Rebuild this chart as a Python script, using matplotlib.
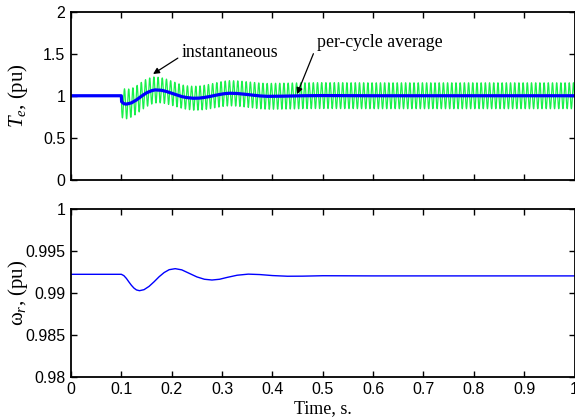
import numpy as np
import matplotlib
matplotlib.use("Agg")
import matplotlib.pyplot as plt
from matplotlib.ticker import FuncFormatter, MultipleLocator

plt.rcParams['font.family'] = ['Liberation Sans', 'DejaVu Sans']
plt.rcParams['mathtext.fontset'] = 'custom'
plt.rcParams['mathtext.rm'] = 'Liberation Serif'
plt.rcParams['mathtext.it'] = 'Liberation Serif:italic'
plt.rcParams['mathtext.bf'] = 'Liberation Serif:bold'

# Per-cycle average electromagnetic torque (pu)
te_avg_t = [0.0, 0.1, 0.1005, 0.105, 0.11, 0.12, 0.13, 0.14, 0.15, 0.16, 0.167,
            0.18, 0.19, 0.20, 0.21, 0.22, 0.23, 0.243, 0.255, 0.265, 0.275,
            0.285, 0.295, 0.305, 0.315, 0.33, 0.345, 0.36, 0.375, 0.39, 0.42,
            0.46, 0.5, 0.6, 1.0]
te_avg = [1.0, 1.0, 0.93, 0.905, 0.90, 0.915, 0.95, 0.995, 1.035, 1.06, 1.07,
          1.065, 1.05, 1.03, 1.01, 0.99, 0.978, 0.97, 0.972, 0.98, 0.99,
          1.003, 1.015, 1.025, 1.03, 1.027, 1.018, 1.008, 0.998, 0.993, 0.995,
          1.0, 1.002, 1.0, 1.0]

# Ripple amplitude of the instantaneous torque about its average (pu)
ripple_t = [0.1, 0.105, 0.12, 0.15, 0.18, 0.22, 0.26, 0.3, 0.4, 1.0]
ripple_amp = [0.19, 0.18, 0.17, 0.165, 0.15, 0.14, 0.145, 0.15, 0.155, 0.155]
ripple_freq = 120.0  # Hz
fault_time = 0.1

# Rotor speed (pu)
wr_t = [0.0, 0.1, 0.105, 0.11, 0.115, 0.12, 0.125, 0.13, 0.136, 0.145, 0.155,
        0.165, 0.175, 0.185, 0.195, 0.207, 0.22, 0.235, 0.25, 0.265, 0.28,
        0.295, 0.31, 0.33, 0.352, 0.375, 0.40, 0.43, 0.46, 0.5, 0.55, 0.6,
        0.7, 1.0]
wr = [0.99219, 0.99219, 0.99203, 0.99170, 0.99128, 0.99088, 0.99055, 0.99033,
      0.99024, 0.99036, 0.99075, 0.99130, 0.99190, 0.99240, 0.99274, 0.99286,
      0.99272, 0.99230, 0.99188, 0.99160, 0.99151, 0.99160, 0.99182, 0.99208,
      0.99221, 0.99216, 0.99204, 0.99196, 0.99197, 0.99202, 0.99201, 0.99200,
      0.99200, 0.99200]

x_ticks = [0, 0.1, 0.2, 0.3, 0.4, 0.5, 0.6, 0.7, 0.8, 0.9, 1.0]

# Instantaneous torque: average plus the double-frequency ripple after the fault
t = np.linspace(0, 1.0, 24001)
avg_dense = np.interp(t, te_avg_t, te_avg)
amp_dense = np.interp(t, ripple_t, ripple_amp)
ripple = -amp_dense * np.sin(2 * np.pi * ripple_freq * (t - fault_time))
te_inst = np.where(t >= fault_time, avg_dense + ripple, avg_dense)

W, H = 575, 419
fig = plt.figure(figsize=(W / 100, H / 100), dpi=100)
left, right = 71 / W, 574.5 / W
ax1 = fig.add_axes([left, 1 - 179.5 / H, right - left, (179.5 - 12) / H])
ax2 = fig.add_axes([left, 1 - 376.7 / H, right - left, (376.7 - 208.7) / H])

fmt = FuncFormatter(lambda v, p: ('%g' % round(v, 6)))

ax1.plot(t, te_inst, color='#18f04a', lw=0.9)
ax1.plot(te_avg_t, te_avg, color='#0000ff', lw=2.3)
ax1.set_xlim(0, 1)
ax1.set_ylim(0, 2)
ax1.yaxis.set_major_locator(MultipleLocator(0.5))
ax1.set_xticks(x_ticks)
ax1.set_xticklabels([])
ax1.yaxis.set_major_formatter(fmt)
ax1.set_ylabel(r'$T_e$, (pu)', fontsize=15, family='Liberation Serif')
ax1.yaxis.set_label_coords(-0.082, 0.5)

ax1.annotate('instantaneous', xy=(0.163, 1.26), xytext=(0.22, 1.52),
             fontsize=12.8, family='Liberation Serif', va='center', ha='left',
             arrowprops=dict(arrowstyle='-|>', color='black', lw=0.9,
                             mutation_scale=9, shrinkA=1, shrinkB=0,
                             relpos=(0.0, 0.3)))
ax1.annotate('per-cycle average', xy=(0.449, 1.02), xytext=(0.488, 1.64),
             fontsize=12.8, family='Liberation Serif', va='center', ha='left',
             arrowprops=dict(arrowstyle='-|>', color='black', lw=0.9,
                             mutation_scale=9, shrinkA=1, shrinkB=0,
                             relpos=(0.0, 0.3)))

ax2.plot(wr_t, wr, color='#0000ff', lw=1.0)
ax2.set_xlim(0, 1)
ax2.set_ylim(0.98, 1.0)
ax2.yaxis.set_major_locator(MultipleLocator(0.005))
ax2.set_xticks(x_ticks)
ax2.xaxis.set_major_formatter(fmt)
ax2.yaxis.set_major_formatter(fmt)
ax2.set_ylabel('\u03c9$_r$, (pu)', fontsize=15, family='Liberation Serif')
ax2.yaxis.set_label_coords(-0.082, 0.5)
ax2.set_xlabel('Time, s.', fontsize=13, family='Liberation Serif', labelpad=2)

for ax in (ax1, ax2):
    ax.tick_params(direction='in', top=True, right=True, length=4, width=1.0,
                   labelsize=11.5, pad=4)
    for s in ax.spines.values():
        s.set_linewidth(1.3)

fig.savefig('out.png', dpi=100)
